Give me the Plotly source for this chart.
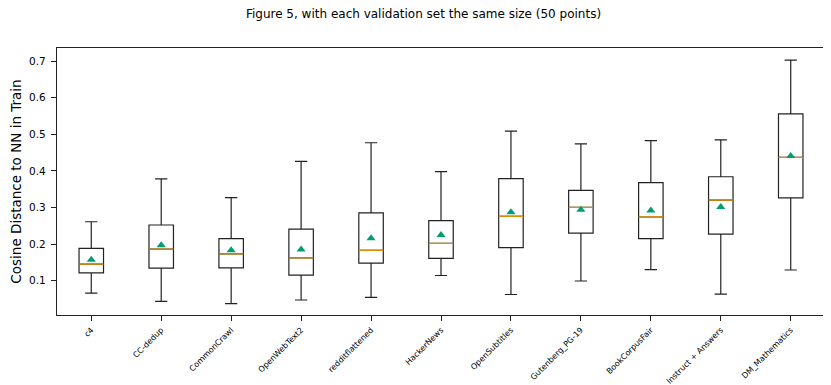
import plotly.graph_objects as go

# dataset names on the x axis
datasets = ["c4", "CC-dedup", "CommonCrawl", "OpenWebText2", "redditflattened",
            "HackerNews", "OpenSubtitles", "Gutenberg_PG-19", "BookCorpusFair",
            "Instruct + Answers", "DM_Mathematics"]

# box statistics
lower_whisker = [0.066, 0.043, 0.037, 0.047, 0.054, 0.114, 0.062, 0.099, 0.130, 0.063, 0.129]
q1 = [0.121, 0.134, 0.135, 0.115, 0.148, 0.161, 0.190, 0.230, 0.215, 0.227, 0.326]
median = [0.145, 0.186, 0.173, 0.162, 0.183, 0.202, 0.276, 0.300, 0.274, 0.320, 0.437]
q3 = [0.188, 0.252, 0.215, 0.241, 0.285, 0.264, 0.379, 0.347, 0.368, 0.384, 0.556]
upper_whisker = [0.261, 0.378, 0.327, 0.426, 0.477, 0.398, 0.509, 0.474, 0.483, 0.485, 0.703]
mean = [0.157, 0.197, 0.183, 0.185, 0.216, 0.225, 0.287, 0.294, 0.292, 0.301, 0.441]

ytick_vals = [0.1, 0.2, 0.3, 0.4, 0.5, 0.6, 0.7]

FONT = "DejaVu Sans"
INK = "#222222"

fig = go.Figure()

# boxes + whiskers
fig.add_trace(go.Box(
    x=datasets, q1=q1, median=median, q3=q3,
    lowerfence=lower_whisker, upperfence=upper_whisker,
    line=dict(color=INK, width=1.2), fillcolor="rgba(0,0,0,0)",
    whiskerwidth=0.5, showlegend=False, hoverinfo="skip",
))

# orange median line drawn as a flat box on top
fig.add_trace(go.Box(
    x=datasets, q1=median, median=median, q3=median,
    lowerfence=median, upperfence=median,
    line=dict(color="#de8f05", width=1.3), fillcolor="rgba(0,0,0,0)",
    whiskerwidth=0, showlegend=False, hoverinfo="skip",
))

# means
fig.add_trace(go.Scatter(
    x=datasets, y=mean, mode="markers",
    marker=dict(symbol="triangle-up", size=8, color="#029e73"),
    showlegend=False,
))

fig.update_layout(
    width=831, height=385,
    margin=dict(l=49, r=14, t=40, b=78),
    plot_bgcolor="white", paper_bgcolor="white",
    font=dict(family=FONT, color="black"),
    boxmode="overlay", boxgap=0.5,
    title=dict(text="Figure 5, with each validation set the same size (50 points)",
               x=0.5, xanchor="center", y=1 - 6 / 385, yanchor="middle",
               yref="container", font=dict(size=12, family=FONT)),
    xaxis=dict(
        type="category", range=[-0.49, 10.49], automargin=False,
        showline=True, linecolor=INK, linewidth=1.3, mirror=True,
        ticks="outside", ticklen=5, tickwidth=1.3, tickcolor=INK,
        tickangle=-45, tickfont=dict(size=8), ticklabelstandoff=1,
        showgrid=False, zeroline=False,
    ),
    yaxis=dict(
        range=[0.006, 0.736], tickvals=ytick_vals, tickformat=".1f",
        automargin=False,
        showline=True, linecolor=INK, linewidth=1.3, mirror="ticks",
        ticks="outside", ticklen=5, tickwidth=1.3, tickcolor=INK,
        tickfont=dict(size=10.5), ticklabelstandoff=3,
        showgrid=False, zeroline=False,
        title=dict(text="Cosine Distance to NN in Train", font=dict(size=13.5), standoff=4),
    ),
)

fig.write_html("out.html")
